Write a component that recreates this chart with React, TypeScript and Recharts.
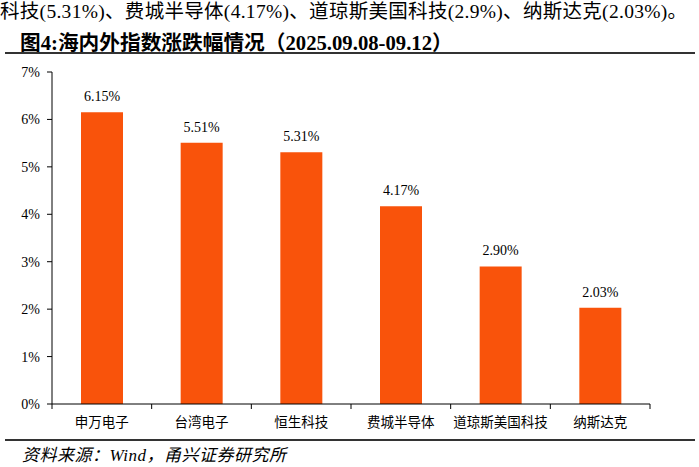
import React from 'react';
import { BarChart, Bar, XAxis, YAxis, LabelList } from 'recharts';

const categories = ['申万电子', '台湾电子', '恒生科技', '费城半导体', '道琼斯美国科技', '纳斯达克'];
const changes = [6.15, 5.51, 5.31, 4.17, 2.9, 2.03];
const yTicks = [0, 1, 2, 3, 4, 5, 6, 7];

const data = categories.map((name, i) => ({ name, value: changes[i] }));

const BAR_COLOR = '#F9530B';
const SERIF = 'Liberation Serif, DejaVu Serif, serif';
const CJK = 'Noto Sans CJK SC, sans-serif';
const MIXED = 'Liberation Serif, Noto Sans CJK SC, serif';

// category labels with tick marks drawn at the category boundaries
const CategoryTick = (props: any) => {
  const { x, y, payload, index } = props;
  const half = 598 / categories.length / 2;
  return (
    <g>
      <line x1={x - half} y1={y - 8} x2={x - half} y2={y - 3} stroke="#000" />
      {index === categories.length - 1 && (
        <line x1={x + half} y1={y - 8} x2={x + half} y2={y - 3} stroke="#000" />
      )}
      <text x={x} y={y + 15} textAnchor="middle" fontSize={13.5} fontFamily={CJK} fill="#000">
        {payload.value}
      </text>
    </g>
  );
};

export default function App() {
  return (
    <div style={{ position: 'absolute', left: 0, top: 0, width: 699, height: 467, background: '#fff', overflow: 'hidden' }}>
      <div style={{ position: 'absolute', left: 0, top: -5, whiteSpace: 'nowrap', fontFamily: MIXED, fontSize: 19.5, letterSpacing: 0.3, color: '#000' }}>
        科技(5.31%)、费城半导体(4.17%)、道琼斯美国科技(2.9%)、纳斯达克(2.03%)。
      </div>
      <div style={{ position: 'absolute', left: 20, top: 26, whiteSpace: 'nowrap', fontFamily: MIXED, fontWeight: 'bold', fontSize: 20.7, color: '#000' }}>
        图4:海内外指数涨跌幅情况（2025.09.08-09.12）
      </div>
      <div style={{ position: 'absolute', left: 5, top: 52, width: 690, height: 2, background: '#333' }} />
      <div style={{ position: 'absolute', left: 0, top: 0 }}>
        <BarChart
          width={699}
          height={440}
          data={data}
          margin={{ top: 72, right: 49, bottom: 0, left: 0 }}
          barSize={42}
        >
          <XAxis
            dataKey="name"
            axisLine={{ stroke: '#000' }}
            tickLine={false}
            tick={<CategoryTick />}
            interval={0}
            height={36}
          />
          <YAxis
            domain={[0, 7]}
            ticks={yTicks}
            tickFormatter={(v) => `${v}%`}
            axisLine={{ stroke: '#000' }}
            tickLine={{ stroke: '#000' }}
            tickSize={5}
            tickMargin={7}
            width={52}
            tick={{ fill: '#000', fontSize: 14, fontFamily: SERIF }}
          />
          <Bar dataKey="value" fill={BAR_COLOR} isAnimationActive={false}>
            <LabelList
              dataKey="value"
              position="top"
              offset={11}
              formatter={(v: any) => `${Number(v).toFixed(2)}%`}
              style={{ fill: '#000', fontSize: 14, fontFamily: SERIF }}
            />
          </Bar>
        </BarChart>
      </div>
      <div style={{ position: 'absolute', left: 5, top: 439, width: 690, height: 2, background: '#333' }} />
      <div style={{ position: 'absolute', left: 22, top: 441, whiteSpace: 'nowrap', fontFamily: MIXED, fontStyle: 'italic', fontSize: 17, letterSpacing: 0.5, color: '#000' }}>
        资料来源：Wind，甬兴证券研究所
      </div>
    </div>
  );
}
